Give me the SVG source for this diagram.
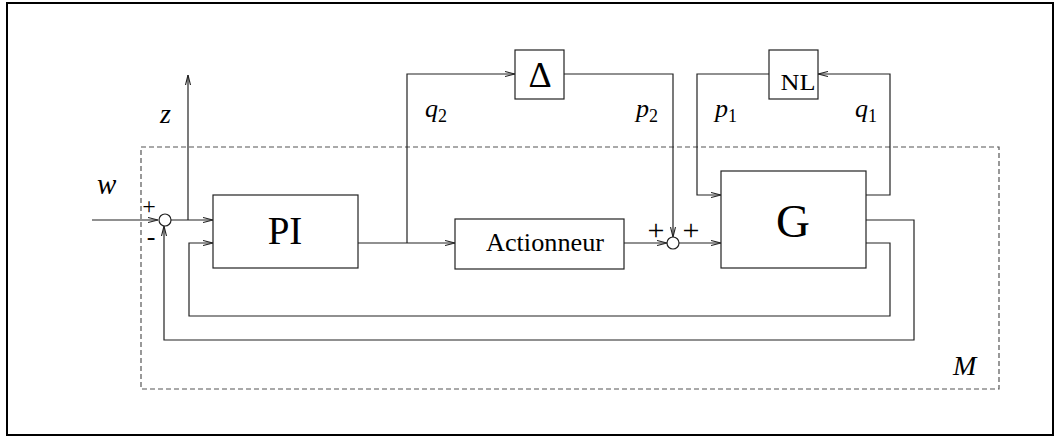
<svg xmlns="http://www.w3.org/2000/svg" width="1055" height="437" viewBox="0 0 1055 437">
<style>
.blk{fill:#fff;stroke:#222;stroke-width:1.2}
.ln{fill:none;stroke:#222;stroke-width:1.2}
.arr{fill:none;stroke:#222;stroke-width:1.2;marker-end:url(#ah)}
.dash{fill:none;stroke:#555;stroke-width:1.2;stroke-dasharray:5,3}
.t{font-family:"Liberation Serif","Times New Roman",serif;fill:#000}
.m{font-family:"Liberation Serif","Times New Roman",serif;font-style:italic;fill:#000}
</style>
<defs>
<marker id="ah" viewBox="0 0 10 6" refX="10" refY="3" markerWidth="10" markerHeight="6" markerUnits="userSpaceOnUse" orient="auto">
<path d="M0,0.5 L10,3 L0,5.5" fill="none" stroke="#222" stroke-width="1.1"/>
</marker>
</defs>
<rect x="7" y="3" width="1046" height="432" fill="#fff" stroke="#000" stroke-width="2"/>
<g id="M">
<rect class="dash" x="141" y="147" width="858" height="242"/>
<text class="m" x="953" y="375" font-size="28">M</text>
</g>
<g id="connectors">
<path class="arr" d="M92,220 H158"/>
<path class="arr" d="M171,220 H213"/>
<path class="arr" d="M188,220 V75"/>
<path class="arr" d="M866,220 H914 V340 H164 V226"/>
<path class="arr" d="M866,243 H890 V316 H189 V243 H213"/>
<path class="arr" d="M358,243 H455"/>
<path class="arr" d="M407,243 V74 H515"/>
<path class="arr" d="M564,74 H673 V237"/>
<path class="arr" d="M624,243 H667"/>
<path class="arr" d="M679,243 H721"/>
<path class="arr" d="M866,195 H890 V74 H818"/>
<path class="arr" d="M769,74 H697 V195 H721"/>
</g>
<g id="sum1">
<circle cx="165" cy="220" r="6" fill="#fff" stroke="#222" stroke-width="1.2"/>
<text class="t" x="149" y="214" font-size="24" text-anchor="middle">+</text>
<text class="t" x="151" y="245" font-size="26" text-anchor="middle">-</text>
</g>
<g id="sum2">
<circle cx="673" cy="243" r="6" fill="#fff" stroke="#222" stroke-width="1.2"/>
<text class="t" x="656" y="240" font-size="30" text-anchor="middle">+</text>
<text class="t" x="691" y="240" font-size="30" text-anchor="middle">+</text>
</g>
<g id="PI">
<rect class="blk" x="213" y="195" width="145" height="73"/>
<text class="t" x="285" y="244" font-size="39" text-anchor="middle">PI</text>
</g>
<g id="Actionneur">
<rect class="blk" x="455" y="219" width="169" height="50"/>
<text class="t" x="545" y="251" font-size="25" text-anchor="middle" textLength="118" lengthAdjust="spacingAndGlyphs">Actionneur</text>
</g>
<g id="G">
<rect class="blk" x="721" y="171" width="145" height="97"/>
<text class="t" x="793" y="237" font-size="47" text-anchor="middle">G</text>
</g>
<g id="Delta">
<rect class="blk" x="515" y="50" width="49" height="49"/>
<text class="t" x="540" y="87" font-size="36" text-anchor="middle">Δ</text>
</g>
<g id="NL">
<rect class="blk" x="769" y="50" width="49" height="49"/>
<text class="t" x="798" y="90" font-size="24" text-anchor="middle" textLength="35" lengthAdjust="spacingAndGlyphs">NL</text>
</g>
<g id="labels">
<text class="m" x="160" y="123" font-size="28">z</text>
<text class="m" x="97" y="194" font-size="29">w</text>
<text class="m" x="425" y="117" font-size="26">q<tspan font-style="normal" font-size="18" dy="5">2</tspan></text>
<text class="m" x="636" y="117" font-size="26">p<tspan font-style="normal" font-size="18" dy="5">2</tspan></text>
<text class="m" x="715" y="117" font-size="26">p<tspan font-style="normal" font-size="18" dy="5">1</tspan></text>
<text class="m" x="855" y="117" font-size="26">q<tspan font-style="normal" font-size="18" dy="5">1</tspan></text>
</g>
</svg>
